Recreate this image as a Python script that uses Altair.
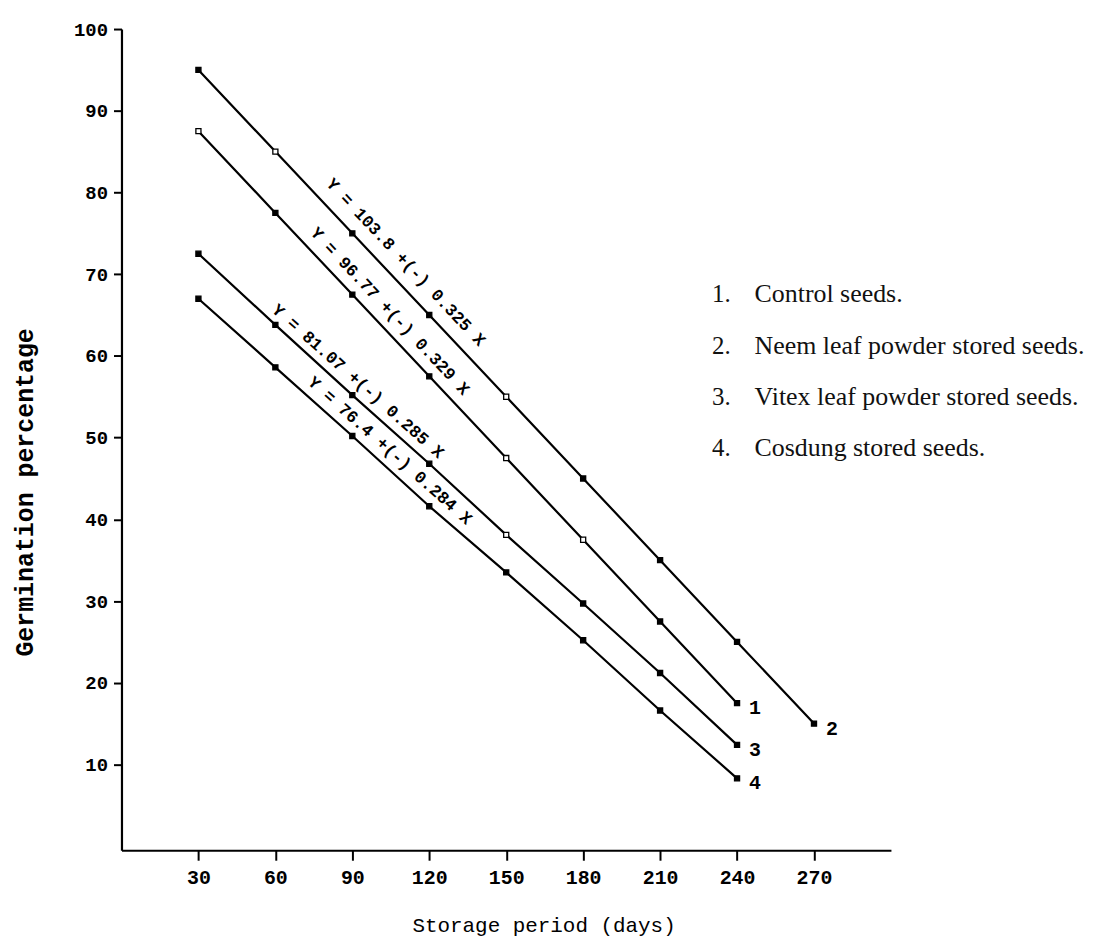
import altair as alt
import pandas as pd

# ---- data ----
days = [30, 60, 90, 120, 150, 180, 210, 240, 270]
curve_1 = [87.5, 77.5, 67.5, 57.5, 47.5, 37.5, 27.5, 17.5]
curve_2 = [95, 85, 75, 65, 55, 45, 35, 25, 15]
curve_3 = [72.5, 63.8, 55.2, 46.8, 38.1, 29.7, 21.2, 12.4]
curve_4 = [67.0, 58.6, 50.2, 41.6, 33.5, 25.2, 16.6, 8.3]
curve_names = ["1", "2", "3", "4"]
hollow_points = [("1", 30), ("1", 150), ("1", 180), ("2", 60), ("2", 150), ("3", 150)]

equation_curves = ["2", "1", "3", "4"]
equations = [
    "Y = 103.8 +(-) 0.325 X",
    "Y = 96.77 +(-) 0.329 X",
    "Y = 81.07 +(-) 0.285 X",
    "Y = 76.4 +(-) 0.284 X",
]
legend_numbers = ["1.", "2.", "3.", "4."]
legend_labels = [
    "Control seeds.",
    "Neem leaf powder stored seeds.",
    "Vitex leaf powder stored seeds.",
    "Cosdung stored seeds.",
]
x_ticks = [30, 60, 90, 120, 150, 180, 210, 240, 270]
y_ticks = [10, 20, 30, 40, 50, 60, 70, 80, 90, 100]

# ---- tables ----
rows = []
for name, vals in zip(curve_names, [curve_1, curve_2, curve_3, curve_4]):
    for d, v in zip(days, vals):
        rows.append({"curve": name, "day": d, "value": v,
                     "open": (name, d) in hollow_points})
df = pd.DataFrame(rows)
df_end = df.groupby("curve", as_index=False).last()

MONO = "Liberation Mono"
SERIF = "Liberation Serif"

x_enc = alt.X(
    "day:Q",
    scale=alt.Scale(domain=[0, 300], nice=False, zero=False),
    axis=alt.Axis(
        values=x_ticks, title="Storage period (days)", grid=False,
        tickSize=10, tickWidth=2, tickColor="black",
        domainColor="black", domainWidth=2.2,
        labelFont=MONO, labelFontSize=20, labelFontWeight="bold",
        labelColor="black", labelPadding=7,
        titleFont=MONO, titleFontSize=21, titleFontWeight="normal",
        titleColor="black", titleX=424, titleY=76,
        titleBaseline="middle", titleAlign="center",
    ),
)
y_enc = alt.Y(
    "value:Q",
    scale=alt.Scale(domain=[-0.5, 100], nice=False, zero=False),
    axis=alt.Axis(
        values=y_ticks, title="Germination percentage", grid=False,
        tickSize=8, tickWidth=2, tickColor="black",
        domainColor="black", domainWidth=2.2,
        labelFont=MONO, labelFontSize=19, labelFontWeight="bold",
        labelColor="black", labelPadding=6,
        titleFont=MONO, titleFontSize=25, titleFontWeight="bold",
        titleColor="black", titleAngle=270, titleX=-97, titleY=465,
        titleBaseline="middle", titleAlign="center",
    ),
)

base = alt.Chart(df)
lines = base.mark_line(color="black", strokeWidth=2.2).encode(
    x=x_enc, y=y_enc, detail="curve:N"
)
points = base.mark_square(size=26, stroke="black", strokeWidth=1.3, opacity=1).encode(
    x="day:Q", y="value:Q",
    fill=alt.condition(alt.datum.open, alt.value("white"), alt.value("black")),
)
end_labels = alt.Chart(df_end).mark_text(
    font=MONO, fontSize=20, fontWeight="bold", color="black",
    align="left", baseline="middle", dx=12, dy=5,
).encode(x="day:Q", y="value:Q", text="curve:N")

layers = [lines, points, end_labels]

# equations written along the lines (anchored at the 90-day point)
eq_style = [(46.7, 58, -19), (46.7, 38, -16), (41.5, -5, -14), (41.7, 38, -14)]
for curve, eq, (ang, ddx, ddy) in zip(equation_curves, equations, eq_style):
    anchor = df[(df.curve == curve) & (df.day == 90)].assign(eq=eq)
    layers.append(
        alt.Chart(anchor).mark_text(
            font=MONO, fontSize=17, fontWeight="bold", color="black",
            angle=ang, dx=ddx, dy=ddy, align="center", baseline="middle",
        ).encode(x="day:Q", y="value:Q", text="eq:N")
    )

# legend block on the right
legend_y = [266, 318, 370, 421]
for num, lab, ly in zip(legend_numbers, legend_labels, legend_y):
    t = pd.DataFrame({"num": [num], "lab": [lab]})
    layers.append(
        alt.Chart(t).mark_text(font=SERIF, fontSize=25, color="#111",
                               align="right", baseline="middle")
        .encode(x=alt.value(612), y=alt.value(ly), text="num:N")
    )
    layers.append(
        alt.Chart(t).mark_text(font=SERIF, fontSize=26, color="#111",
                               align="left", baseline="middle")
        .encode(x=alt.value(636), y=alt.value(ly), text="lab:N")
    )

chart = (
    alt.layer(*layers)
    .properties(
        width=773, height=825,
        autosize=alt.AutoSizeParams(type="none"),
        padding={"left": 114, "top": 19, "right": 206, "bottom": 85},
        background="white",
    )
    .configure_view(stroke=None)
)

chart.save("out.html", embed_options={"renderer": "svg", "actions": False})
